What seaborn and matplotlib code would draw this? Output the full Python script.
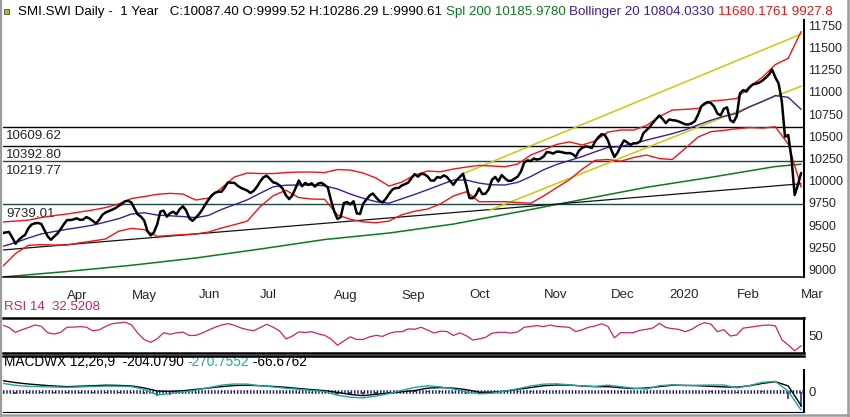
import numpy as np
import pandas as pd
import matplotlib
matplotlib.use("Agg")
import matplotlib.pyplot as plt
from matplotlib.patches import Rectangle
from matplotlib.lines import Line2D
import seaborn as sns

# --- trading calendar: SIX sessions, 1 year up to 2 Mar 2020 ---
holidays = ["2019-04-19", "2019-04-22", "2019-05-01", "2019-05-30", "2019-06-10",
            "2019-08-01", "2019-12-24", "2019-12-25", "2019-12-26", "2019-12-31",
            "2020-01-01", "2020-01-02"]
sessions = pd.bdate_range("2019-03-04", "2020-03-02")
sessions = sessions[~sessions.isin(pd.to_datetime(holidays))]

# daily close
close = [9411, 9418, 9423, 9360, 9291, 9333, 9366, 9391, 9465, 9507,
         9520, 9524, 9514, 9443, 9373, 9335, 9371, 9404, 9454, 9509,
         9557, 9557, 9564, 9577, 9560, 9562, 9591, 9574, 9548, 9519,
         9561, 9617, 9643, 9658, 9673, 9691, 9716, 9738, 9768, 9774,
         9755, 9684, 9619, 9595, 9550, 9432, 9384, 9419, 9508, 9653,
         9663, 9596, 9633, 9651, 9623, 9680, 9712, 9666, 9577, 9548,
         9586, 9622, 9675, 9735, 9788, 9837, 9865, 9876, 9876, 9925,
         9982, 9977, 9976, 9944, 9920, 9905, 9889, 9862, 9887, 9932,
         9992, 10039, 10057, 10022, 9983, 9972, 9949, 9910, 9836, 9793,
         9836, 9917, 10003, 9938, 9975, 9953, 9971, 9934, 9968, 9976,
         9954, 9923, 9780, 9655, 9570, 9591, 9749, 9759, 9733, 9769,
         9633, 9625, 9743, 9788, 9834, 9856, 9812, 9773, 9755, 9796,
         9850, 9899, 9918, 9919, 9947, 9961, 9980, 10030, 10075, 10046,
         10078, 10073, 10048, 10002, 10002, 10042, 10033, 10060, 10042, 9998,
         9954, 10007, 10043, 10079, 9950, 9805, 9803, 9840, 9914, 9850,
         9855, 9906, 10011, 10043, 9993, 10064, 10028, 9999, 10000, 10024,
         10047, 10104, 10206, 10229, 10222, 10250, 10238, 10248, 10272, 10323,
         10318, 10306, 10327, 10327, 10319, 10310, 10312, 10301, 10270, 10338,
         10370, 10387, 10381, 10368, 10440, 10489, 10524, 10518, 10455, 10351,
         10268, 10316, 10392, 10454, 10432, 10404, 10421, 10422, 10441, 10534,
         10570, 10606, 10654, 10697, 10734, 10694, 10649, 10690, 10682, 10678,
         10667, 10652, 10635, 10634, 10646, 10670, 10744, 10838, 10868, 10887,
         10875, 10834, 10757, 10736, 10810, 10826, 10683, 10659, 10727, 10984,
         11020, 11003, 11052, 11085, 11093, 11105, 11128, 11160, 11195, 11252,
         11164, 11096, 10899, 10495, 10515, 10255, 9839, 9953, 10087]

# Bollinger 20 and MACD, read every 4th session
bb_upper = [9535, 9546, 9557, 9586, 9608, 9625, 9648, 9670, 9698, 9738,
            9800, 9822, 9847, 9858, 9850, 9783, 9805, 9918, 10042, 10087,
            10081, 10081, 10092, 10098, 10098, 10092, 10126, 10120, 10087, 10030,
            9940, 9985, 10064, 10109, 10101, 10132, 10154, 10173, 10166, 10158,
            10188, 10289, 10346, 10408, 10438, 10402, 10447, 10548, 10571, 10571,
            10622, 10723, 10796, 10804, 10813, 10897, 10909, 10926, 11061, 11165,
            11308, 11378, 11680]
bb_mid = [9261, 9303, 9355, 9401, 9428, 9453, 9475, 9500, 9535, 9572,
          9625, 9639, 9614, 9605, 9597, 9584, 9610, 9677, 9731, 9785,
          9859, 9931, 9950, 9952, 9952, 9943, 9907, 9850, 9802, 9764,
          9747, 9797, 9846, 9899, 9954, 10008, 10008, 9973, 9954, 9952,
          9982, 10047, 10123, 10182, 10227, 10272, 10325, 10375, 10385, 10421,
          10458, 10494, 10530, 10573, 10629, 10681, 10726, 10759, 10832, 10893,
          10959, 10939, 10804]
bb_lower = [9034, 9180, 9273, 9280, 9276, 9276, 9301, 9322, 9344, 9431,
            9464, 9449, 9374, 9384, 9393, 9401, 9422, 9468, 9505, 9546,
            9708, 9831, 9893, 9810, 9794, 9791, 9616, 9566, 9537, 9527,
            9546, 9617, 9657, 9681, 9740, 9828, 9876, 9764, 9764, 9764,
            9755, 9746, 9828, 9920, 10010, 10130, 10230, 10239, 10220, 10262,
            10289, 10250, 10239, 10364, 10492, 10553, 10567, 10586, 10599, 10593,
            10607, 10413, 9928]
macd = [130, 100, 85, 80, 75, 70, 76, 82, 88, 87,
        81, 39, -45, -24, 0, 27, 66, 103, 120, 118,
        93, 76, 56, 40, 24, 7, -48, -78, -88, -61,
        -24, 24, 69, 94, 76, 45, 2, -27, -18, 15,
        48, 90, 118, 123, 108, 91, 84, 103, 80, 57,
        45, 94, 108, 94, 102, 105, 105, 61, 97, 145,
        159, 12, -270.76]
signal = [170, 141, 120, 104, 90, 80, 87, 94, 102, 99,
          91, 61, 15, 9, 19, 39, 60, 81, 97, 102,
          94, 84, 71, 52, 36, 21, -6, -37, -55, -34,
          -16, 3, 22, 58, 66, 58, 36, -3, -3, 12,
          40, 67, 94, 105, 104, 90, 80, 80, 64, 51,
          60, 81, 102, 100, 94, 85, 76, 72, 94, 129,
          155, 91, -204.08]
hist = [-8, -8, -6, -6, -5, -4, -3, -3, -3, -3,
        -4, -8, -18, -12, -6, -3, 2, 3, 4, 3,
        0, -2, -3, -3, -3, -4, -12, -15, -12, -9,
        -3, 4, 6, 6, 3, -3, -8, -10, -6, 0,
        3, 5, 5, 4, 1, 0, 1, 4, 3, 0,
        -3, 2, 2, 0, 2, 4, 5, -3, 1, 5,
        2, -30, -66.68]

# RSI 14, read every 2nd session
rsi = [68.0, 63.6, 55.3, 59.9, 63.7, 68.0, 65.8, 54.8, 52.6, 55.3,
       64.1, 64.4, 65.1, 64.4, 58.1, 59.6, 65.6, 70.2, 71.6, 72.8,
       68.4, 53.9, 43.0, 38.3, 44.3, 54.8, 52.2, 54.6, 55.8, 50.0,
       50.2, 54.3, 59.4, 64.2, 68.0, 70.4, 67.5, 63.0, 60.1, 58.2,
       63.7, 69.2, 64.4, 57.9, 44.3, 49.0, 56.2, 55.1, 56.5, 52.9,
       50.3, 44.0, 33.4, 40.6, 47.8, 43.1, 43.3, 47.8, 50.2, 48.5,
       53.6, 56.3, 56.5, 61.3, 60.8, 64.1, 59.3, 54.3, 57.4, 56.9,
       50.0, 54.5, 49.7, 42.3, 44.2, 46.9, 53.8, 55.5, 55.5, 54.1,
       56.2, 64.2, 65.4, 67.0, 65.3, 67.8, 65.8, 64.8, 64.1, 56.7,
       59.8, 64.2, 66.3, 70.2, 65.6, 46.1, 55.0, 54.6, 55.1, 59.1,
       60.6, 63.0, 70.9, 63.7, 61.8, 60.5, 56.5, 60.6, 67.5, 72.0,
       69.6, 56.5, 60.1, 49.1, 50.9, 62.7, 64.1, 65.8, 67.3, 68.0,
       66.6, 43.0, 33.7, 23.8, 32.5]

# 200 day average, read every 20th session + last
spl200 = [8916, 8978, 9048, 9130, 9231, 9338, 9411, 9512, 9648, 9788,
          9926, 10039, 10160, 10186]

# drawn trend lines (start date, end date, start value, end value)
trend_upper = ("2019-09-27", "2020-03-02", 10079, 11651)
trend_lower = ("2019-10-09", "2020-03-02", 9664, 11065)
trend_support = ("2019-03-04", "2020-03-02", 9220, 9966)

levels = [10609.62, 10392.80, 10219.77, 9739.01]
level_colors = ["#000000", "#000000", "#1f4646", "#1f4646"]

RED = "#f01414"
PURPLE = "#3c1c9c"
GREEN = "#0b7a1c"
YELLOW = "#c9c90c"
PINK = "#d02068"
TEAL = "#1fa89e"
NAVY = "#1c1c6e"

sns.set_style("white")
plt.rcParams["font.family"] = ["Liberation Sans", "DejaVu Sans"]
plt.rcParams["font.size"] = 9.5
NARROW = ["Liberation Sans Narrow", "Liberation Sans", "DejaVu Sans"]

n = np.arange(len(sessions))
price = pd.DataFrame({"n": n, "close": close})
ind = pd.DataFrame({"n": n[::4], "upper": bb_upper, "mid": bb_mid, "lower": bb_lower,
                    "macd": macd, "signal": signal, "hist": hist})
rsi_df = pd.DataFrame({"n": n[::2], "rsi": rsi})
spl = pd.DataFrame({"n": list(n[0:241:20]) + [n[-1]], "spl": spl200})


def trend_df(t):
    pos = [sessions.get_loc(pd.Timestamp(t[0])), sessions.get_loc(pd.Timestamp(t[1]))]
    return pd.DataFrame({"n": pos, "v": [t[2], t[3]]})


W, H = 850, 417


def box(l, t, r, b):
    return [l / W, 1 - b / H, (r - l) / W, (b - t) / H]


fig = plt.figure(figsize=(8.5, 4.17), dpi=100)
ax = fig.add_axes(box(2.6, 20, 804, 277))
ax_rsi = fig.add_axes(box(2.6, 318, 804, 353))
ax_macd = fig.add_axes(box(2.6, 356, 804, 412))
xlim = (0, 248.9)

# --- price panel ---
for v, c in zip(levels, level_colors):
    ax.axhline(v, color=c, lw=1.0, zorder=1)
    ax.annotate(f"{v:.2f}", xy=(0, v), xycoords=("axes fraction", "data"),
                xytext=(2.5, -2.6), textcoords="offset points", va="top", ha="left",
                fontsize=9.6)

sns.lineplot(data=spl, x="n", y="spl", ax=ax, color=GREEN, lw=1.1, zorder=2)
sns.lineplot(data=trend_df(trend_support), x="n", y="v", ax=ax, color="#111111", lw=0.9, zorder=2)
sns.lineplot(data=trend_df(trend_upper), x="n", y="v", ax=ax, color=YELLOW, lw=1.1, zorder=2)
sns.lineplot(data=trend_df(trend_lower), x="n", y="v", ax=ax, color=YELLOW, lw=1.1, zorder=2)
sns.lineplot(data=ind, x="n", y="upper", ax=ax, color=RED, lw=1.0, zorder=3)
sns.lineplot(data=ind, x="n", y="lower", ax=ax, color=RED, lw=1.0, zorder=3)
sns.lineplot(data=ind, x="n", y="mid", ax=ax, color=PURPLE, lw=1.0, zorder=3)
sns.lineplot(data=price, x="n", y="close", ax=ax, color="black", lw=1.8, zorder=5)

ax.set_xlim(*xlim)
ax.set_ylim(8916, 11810)
ax.set_xlabel("")
ax.set_ylabel("")
ax.yaxis.tick_right()
ax.set_yticks(range(9000, 11751, 250))
ax.tick_params(axis="y", length=0, pad=3.2, labelsize=9)
for lbl in ax.get_yticklabels():
    lbl.set_fontfamily(NARROW)

firsts = pd.Series(n, index=sessions).groupby([sessions.year, sessions.month]).first()
month_pos, month_lbl = [], []
for (yr, mo), pos in firsts.items():
    if yr == 2019 and mo == 3:
        continue
    month_pos.append(pos)
    month_lbl.append(str(yr) if mo == 1 else pd.Timestamp(yr, mo, 1).strftime("%b"))
ax.set_xticks(month_pos)
ax.set_xticklabels(month_lbl)
ax.tick_params(axis="x", length=5.8, width=1.0, pad=3.2, labelsize=9.5, direction="out")
for lbl in ax.get_xticklabels():
    lbl.set_ha("left")

for s in ["left", "top"]:
    ax.spines[s].set_visible(False)
ax.spines["right"].set_linewidth(1.5)
ax.spines["bottom"].set_linewidth(1.1)
for s in ["right", "bottom"]:
    ax.spines[s].set_color("black")

# --- RSI panel ---
sns.lineplot(data=rsi_df, x="n", y="rsi", ax=ax_rsi, color=PINK, lw=0.9)
ax_rsi.set_xlim(*xlim)
ax_rsi.set_ylim(20, 80)
ax_rsi.set_xticks([])
ax_rsi.set_xlabel("")
ax_rsi.set_ylabel("")
ax_rsi.yaxis.tick_right()
ax_rsi.set_yticks([50])
ax_rsi.tick_params(axis="y", length=0, pad=3.2, labelsize=9.5)
ax_rsi.spines["left"].set_visible(False)
for s, w in [("top", 1.8), ("bottom", 1.8), ("right", 1.5)]:
    ax_rsi.spines[s].set_linewidth(w)
    ax_rsi.spines[s].set_color("black")

# --- MACD panel ---
ax_macd.axhline(0, color=NAVY, lw=2.6, linestyle=(0, (0.4, 0.5)), zorder=1)
ax_hist = ax_macd.twinx()
ax_hist.vlines(ind["n"], 0, ind["hist"], color=NAVY, lw=1.1)
ax_hist.set_ylim(-300 / 3.3, 540 / 3.3)
ax_hist.set_yticks([])
for s in ax_hist.spines.values():
    s.set_visible(False)
sns.lineplot(data=ind, x="n", y="signal", ax=ax_macd, color="black", lw=1.0, zorder=3)
sns.lineplot(data=ind, x="n", y="macd", ax=ax_macd, color=TEAL, lw=1.0, zorder=3)
ax_macd.set_zorder(ax_hist.get_zorder() + 1)
ax_macd.patch.set_visible(False)
ax_macd.set_xlim(*xlim)
ax_hist.set_xlim(*xlim)
ax_macd.set_ylim(-300, 540)
ax_macd.set_xticks([])
ax_macd.set_xlabel("")
ax_macd.set_ylabel("")
ax_macd.yaxis.tick_right()
ax_macd.set_yticks([0])
ax_macd.tick_params(axis="y", length=0, pad=3.2, labelsize=9.5)
ax_macd.spines["left"].set_visible(False)
ax_macd.spines["right"].set_bounds(-300, 330)
for s, w in [("top", 1.8), ("bottom", 0.8), ("right", 1.5)]:
    ax_macd.spines[s].set_linewidth(w)
    ax_macd.spines[s].set_color("black")


# --- header texts ---
def chain(parts, x, y, size=9.5):
    t = fig.text(x, y, parts[0][0], color=parts[0][1], va="bottom", ha="left", fontsize=size)
    for s, c in parts[1:]:
        t = ax.annotate(s, xy=(1, 0), xycoords=t, va="bottom", ha="left", color=c, fontsize=size)


chain([("SMI.SWI Daily -  1 Year   C:10087.40 O:9999.52 H:10286.29 L:9990.61 ", "black"),
       ("Spl 200 10185.9780 ", GREEN),
       ("Bollinger 20 10804.0330 ", PURPLE),
       ("11680.1761 9927.8", RED)], 18 / W, 1 - 18 / H, size=9.65)
chain([("RSI 14  32.5208", PINK)], 4 / W, 1 - 313 / H)
chain([("MACDWX 12,26,9  -204.0790 ", "black"),
       ("-270.7552", TEAL),
       (" -66.6762", "black")], 4 / W, 1 - 369.5 / H, size=9.8)

fig.add_artist(Rectangle((4 / W, 1 - 14 / H), 5 / W, 5 / H, transform=fig.transFigure,
                         facecolor="#b5b040", edgecolor="#55551a", lw=0.6))

# window frame
frame = "#9c9c9c"
fig.add_artist(Line2D([1.2 / W, 1.2 / W], [0, 1], transform=fig.transFigure, color=frame, lw=1.6))
fig.add_artist(Line2D([0, 1], [2.2 / H, 2.2 / H], transform=fig.transFigure, color=frame, lw=1.8))
fig.add_artist(Line2D([1 - 2.5 / W, 1 - 2.5 / W], [0, 1], transform=fig.transFigure, color=frame, lw=1.8))

fig.savefig("out.png", dpi=100)
